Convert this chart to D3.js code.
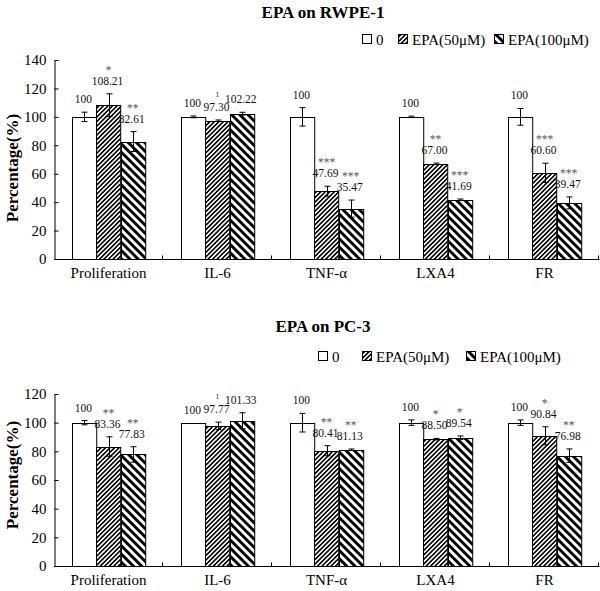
<!DOCTYPE html>
<html>
<head>
<meta charset="utf-8">
<script src="https://cdn.jsdelivr.net/npm/d3@7"></script>
<style>
  html, body { margin: 0; padding: 0; background: #fff; }
  svg { display: block; font-family: "Liberation Serif", "Times New Roman", serif; }
</style>
</head>
<body>
<svg id="chart" width="600" height="591"></svg>
<script>
// ---------- data ----------
const categories = ["Proliferation", "IL-6", "TNF-\u03b1", "LXA4", "FR"];
const seriesNames = ["0", "EPA(50\u03bcM)", "EPA(100\u03bcM)"];
const yTicksTop = [0, 20, 40, 60, 80, 100, 120, 140];
const yTicksBottom = [0, 20, 40, 60, 80, 100, 120];

// EPA on RWPE-1
const rwpeControl = [100, 100, 100, 100, 100];
const rwpe50 = [108.21, 97.30, 47.69, 67.00, 60.60];
const rwpe100 = [82.61, 102.22, 35.47, 41.69, 39.47];
const rwpeErrControl = [3.3, 0.6, 6.5, 0.5, 5.9];
const rwpeErr50 = [8.0, 0.5, 3.5, 0.5, 6.8];
const rwpeErr100 = [7.0, 1.0, 6.0, 0.5, 4.2];
const rwpeSig50 = ["*", "\u00b9", "***", "**", "***"];
const rwpeSig100 = ["**", "", "***", "***", "***"];

// EPA on PC-3
const pc3Control = [100, 100, 100, 100, 100];
const pc350 = [83.36, 97.77, 80.41, 88.50, 90.84];
const pc3100 = [77.83, 101.33, 81.13, 89.54, 76.98];
const pc3ErrControl = [1.5, 0, 6.5, 1.9, 1.9];
const pc3Err50 = [6.8, 2.6, 3.5, 0.5, 6.3];
const pc3Err100 = [5.4, 5.6, 0.5, 1.2, 4.7];
const pc3Sig50 = ["**", "\u00b9", "**", "*", "*"];
const pc3Sig100 = ["**", "", "**", "*", "**"];

// ---------- drawing ----------
const svg = d3.select("#chart");
const defs = svg.append("defs");

function stripePattern(id, period, black, angle) {
  const p = defs.append("pattern")
    .attr("id", id)
    .attr("patternUnits", "userSpaceOnUse")
    .attr("width", period).attr("height", period)
    .attr("patternTransform", `rotate(${angle})`);
  p.append("rect").attr("width", period).attr("height", period).attr("fill", "#fff");
  p.append("rect").attr("width", black).attr("height", period).attr("fill", "#000");
}
stripePattern("hatch50", 3.2, 1.6, 45);
stripePattern("hatch100", 5.8, 2.9, -45);
const fills = ["#fff", "url(#hatch50)", "url(#hatch100)"];

function fmt(v) { return v === 100 ? "100" : v.toFixed(2); }

function drawPanel(cfg) {
  const g = svg.append("g");
  const x = d3.scaleBand().domain(categories).range([cfg.x0, cfg.x1]).padding(0);
  const xs = d3.scaleBand().domain(d3.range(3)).range([0, x.bandwidth()])
    .paddingInner(0).paddingOuter(0.75);
  const y = d3.scaleLinear().domain([0, cfg.max]).range([cfg.yBottom, cfg.yTop]);

  // title
  g.append("text").attr("x", cfg.titleX).attr("y", cfg.titleY)
    .attr("text-anchor", "middle").attr("font-weight", "bold")
    .attr("font-size", 17).text(cfg.title);

  // legend
  const lg = g.append("g");
  seriesNames.forEach((s, i) => {
    const lx = cfg.legendX[i];
    lg.append("rect").attr("x", lx + 0.5).attr("y", cfg.legendY - 10.5)
      .attr("width", 9).attr("height", 9)
      .attr("fill", fills[i]).attr("stroke", "#000").attr("stroke-width", 1);
    lg.append("text").attr("x", lx + 14).attr("y", cfg.legendY)
      .attr("font-size", 15).text(s);
  });

  // y axis
  const yAxis = d3.axisLeft(y).tickValues(cfg.ticks).tickSizeInner(-4)
    .tickSizeOuter(0).tickPadding(8);
  const ya = g.append("g").attr("transform", `translate(${cfg.x0 + 0.5},0)`).call(yAxis);
  ya.selectAll("text").attr("font-size", 15).attr("font-family", "Liberation Serif").attr("fill", "#000");
  ya.selectAll("line,path").attr("stroke", "#000");

  // y title
  g.append("text")
    .attr("transform", `translate(${cfg.yTitleX},${cfg.yTitleY}) rotate(-90)`)
    .attr("text-anchor", "middle").attr("dy", "0.35em")
    .attr("font-weight", "bold").attr("font-size", 17).text("Percentage(%)");

  // bars
  const rows = [];
  categories.forEach((c, ci) => {
    cfg.values.forEach((arr, si) => {
      rows.push({ c, si, v: arr[ci], e: cfg.errors[si][ci], sig: cfg.sigs[si][ci] });
    });
  });

  const bg = g.append("g");
  bg.selectAll("rect").data(rows).join("rect")
    .attr("x", d => Math.round(x(d.c) + xs(d.si)) + 0.5)
    .attr("y", d => Math.round(y(d.v)) + 0.5)
    .attr("width", xs.bandwidth())
    .attr("height", d => Math.round(y(0)) - Math.round(y(d.v)))
    .attr("fill", d => fills[d.si]).attr("stroke", "#000").attr("stroke-width", 1);

  // error bars
  const eg = g.append("g").attr("stroke", "#000").attr("stroke-width", 1);
  rows.filter(d => d.e > 0).forEach(d => {
    const cx = Math.round(x(d.c) + xs(d.si) + xs.bandwidth() / 2) + 0.5;
    const t = y(d.v + d.e), b = y(d.v - d.e);
    eg.append("line").attr("x1", cx).attr("x2", cx).attr("y1", t).attr("y2", b);
    eg.append("line").attr("x1", cx - 3).attr("x2", cx + 3).attr("y1", t).attr("y2", t);
    eg.append("line").attr("x1", cx - 3).attr("x2", cx + 3).attr("y1", b).attr("y2", b);
  });

  // value labels + significance
  const tg = g.append("g");
  rows.forEach(d => {
    const cx = x(d.c) + xs(d.si) + xs.bandwidth() / 2 - 1;
    const by = y(d.v + d.e) - 9;
    tg.append("text").attr("x", cx).attr("y", by).attr("text-anchor", "middle")
      .attr("font-size", 11.5).attr("fill", "#111").text(fmt(d.v));
    if (d.sig) {
      tg.append("text").attr("x", cx + 1).attr("y", by - 11).attr("text-anchor", "middle")
        .attr("font-size", 11.5).attr("fill", "#555").text(d.sig);
    }
  });

  // x axis
  const xa = g.append("g").attr("stroke", "#000").attr("stroke-width", 1);
  const ay = Math.round(y(0)) + 0.5;
  xa.append("line").attr("x1", cfg.x0).attr("x2", cfg.x1 + 0.5).attr("y1", ay).attr("y2", ay);
  categories.forEach(c => {
    const tx = Math.round(x(c) + x.bandwidth()) - 0.5;
    xa.append("line").attr("x1", tx).attr("x2", tx).attr("y1", ay).attr("y2", ay - 4);
  });
  g.append("g").selectAll("text").data(categories).join("text")
    .attr("x", d => x(d) + x.bandwidth() / 2)
    .attr("y", cfg.catLabelY)
    .attr("text-anchor", "middle").attr("font-size", 15).text(d => d);
}

drawPanel({
  title: "EPA on RWPE-1", titleX: 323, titleY: 18,
  legendX: [362, 398, 494], legendY: 45,
  x0: 54, x1: 599, yTop: 60, yBottom: 259, max: 140, ticks: yTicksTop,
  yTitleX: 12, yTitleY: 168, catLabelY: 278,
  values: [rwpeControl, rwpe50, rwpe100],
  errors: [rwpeErrControl, rwpeErr50, rwpeErr100],
  sigs: [["", "", "", "", ""], rwpeSig50, rwpeSig100]
});

drawPanel({
  title: "EPA on PC-3", titleX: 323, titleY: 332,
  legendX: [318, 362, 466], legendY: 362,
  x0: 54, x1: 599, yTop: 394, yBottom: 566, max: 120, ticks: yTicksBottom,
  yTitleX: 12, yTitleY: 475, catLabelY: 585,
  values: [pc3Control, pc350, pc3100],
  errors: [pc3ErrControl, pc3Err50, pc3Err100],
  sigs: [["", "", "", "", ""], pc3Sig50, pc3Sig100]
});
</script>
</body>
</html>
